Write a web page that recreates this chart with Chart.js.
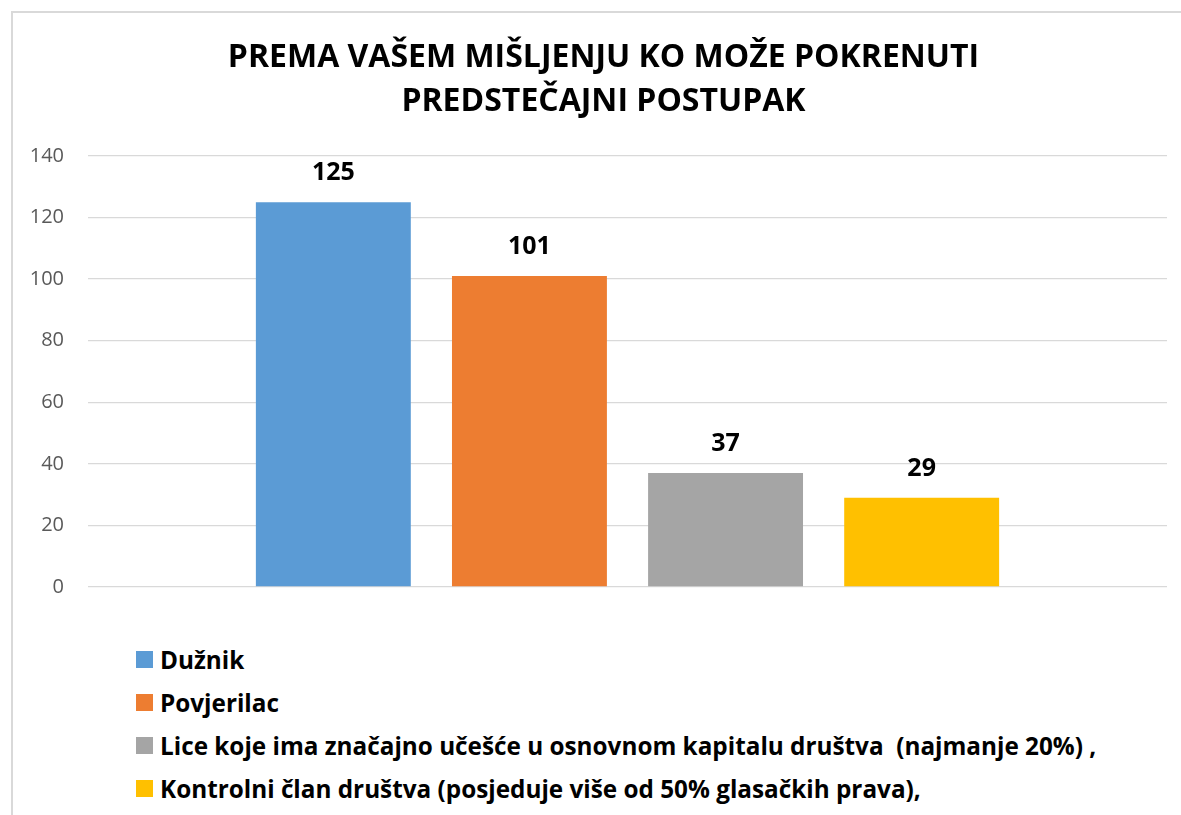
<!DOCTYPE html>
<html lang="sr">
<head>
  <meta charset="UTF-8" />
  <title>Predstečajni postupak</title>
  <style>
    html, body {
      margin: 0;
      padding: 0;
      width: 1181px;
      height: 815px;
      overflow: hidden;
      background: #ffffff;
      font-family: 'Open Sans', sans-serif;
    }

    .frame {
      position: absolute;
      left: 11px;
      top: 11px;
      width: 1300px;
      height: 1000px;
      border: 2px solid #d9d9d9;
    }

    #chartBox {
      position: absolute;
      left: 0;
      top: 0;
      width: 1209px;
      height: 623px;
    }

    #legend {
      position: absolute;
      left: 136px;
      top: 638px;
      margin: 0;
      padding: 0;
      list-style: none;
    }

    #legend li {
      display: flex;
      align-items: center;
      height: 43px;
      font-size: 24.3px;
      font-weight: bold;
      color: #000;
      white-space: pre;
    }

    #legend .box {
      width: 17px;
      height: 17px;
      margin-right: 7px;
      flex: none;
    }
  </style>
</head>
<body>

  <div class="frame"></div>
  <div id="chartBox">
    <canvas id="chart" width="1209" height="623"></canvas>
  </div>
  <ul id="legend"></ul>

  <script src="https://cdn.jsdelivr.net/npm/chart.js"></script>

  <script>
    const titleLines = ["PREMA VAŠEM MIŠLJENJU KO MOŽE POKRENUTI", "PREDSTEČAJNI POSTUPAK"];
    const categories = [""];
    const seriesNames = [
      "Dužnik",
      "Povjerilac",
      "Lice koje ima značajno učešće u osnovnom kapitalu društva  (najmanje 20%) ,",
      "Kontrolni član društva (posjeduje više od 50% glasačkih prava),"
    ];
    const seriesValues = [125, 101, 37, 29];
    const seriesColors = ["#5b9bd5", "#ed7d31", "#a5a5a5", "#ffc000"];

    // value labels above each bar
    const barLabels = {
      id: 'barLabels',
      afterDatasetsDraw(chart) {
        const ctx = chart.ctx;
        ctx.save();
        ctx.font = "bold 25px 'Open Sans', sans-serif";
        ctx.fillStyle = "#000";
        ctx.textAlign = "center";
        ctx.textBaseline = "middle";
        chart.data.datasets.forEach((ds, i) => {
          const meta = chart.getDatasetMeta(i);
          meta.data.forEach((bar, j) => {
            ctx.fillText(ds.data[j], bar.x, bar.y - 29);
          });
        });
        ctx.restore();
      }
    };

    const chart = new Chart(document.getElementById("chart"), {
      type: 'bar',
      data: {
        labels: categories,
        datasets: seriesNames.map((name, i) => ({
          label: name,
          data: [seriesValues[i]],
          backgroundColor: seriesColors[i],
          barPercentage: 0.79,
          categoryPercentage: 0.727
        }))
      },
      options: {
        responsive: false,
        animation: false,
        layout: {
          padding: { left: 12, right: 14, top: 0, bottom: 14 }
        },
        plugins: {
          legend: { display: false },
          tooltip: { enabled: false },
          title: {
            display: true,
            text: titleLines,
            color: "#000",
            font: { family: "'Open Sans', sans-serif", size: 32, weight: 'bold', lineHeight: 1.375 },
            padding: { top: 36, bottom: 32 }
          }
        },
        scales: {
          x: {
            display: false
          },
          y: {
            min: 0,
            max: 140,
            afterFit(scale) { scale.width = 76; },
            border: { display: false },
            grid: { color: "#d9d9d9", lineWidth: 1.3, drawTicks: false },
            ticks: {
              stepSize: 20,
              padding: 24,
              color: "#595959",
              font: { family: "'Open Sans', sans-serif", size: 20 }
            }
          },
          // empty right margin so the title centres like the original
          yRight: {
            position: 'right',
            afterFit(scale) { scale.width = 28; },
            border: { display: false },
            grid: { display: false },
            ticks: { display: false }
          }
        }
      },
      plugins: [barLabels]
    });

    // legend list built from the chart's datasets
    const legendEl = document.getElementById("legend");
    chart.data.datasets.forEach(ds => {
      const li = document.createElement("li");
      const box = document.createElement("span");
      box.className = "box";
      box.style.background = ds.backgroundColor;
      li.appendChild(box);
      li.appendChild(document.createTextNode(ds.label));
      legendEl.appendChild(li);
    });
  </script>

</body>
</html>
